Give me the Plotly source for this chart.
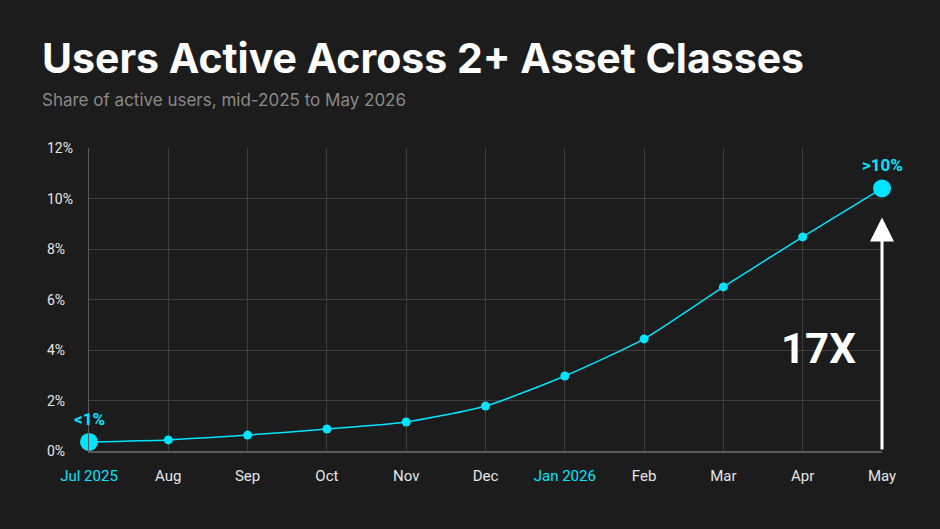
import plotly.graph_objects as go

months = ["Jul 2025", "Aug", "Sep", "Oct", "Nov", "Dec", "Jan 2026", "Feb", "Mar", "Apr", "May"]
share_pct = [0.36, 0.44, 0.63, 0.87, 1.15, 1.78, 2.97, 4.44, 6.5, 8.48, 10.4]
highlight_ticks = ["Jul 2025", "Jan 2026"]
y_ticks = [0, 2, 4, 6, 8, 10, 12]

CYAN = "#00e5ff"
BG = "#1c1c1c"

xs = list(range(len(months)))
ticktext = [f'<span style="color:{CYAN}">{m}</span>' if m in highlight_ticks else m for m in months]

marker_sizes = [18 if i in (0, len(xs) - 1) else 9 for i in xs]

fig = go.Figure()
fig.add_trace(go.Scatter(
    x=xs, y=share_pct, mode="lines+markers",
    line=dict(color=CYAN, width=1.5, shape="spline", smoothing=0.6),
    marker=dict(color=CYAN, size=marker_sizes, line=dict(width=0), opacity=1),
    hoverinfo="skip", showlegend=False, cliponaxis=False,
))

fig.add_annotation(x=0, y=share_pct[0], text="<b>&lt;1%</b>", showarrow=False,
                   yshift=23, font=dict(color=CYAN, size=17, family="Roboto"))
fig.add_annotation(x=xs[-1], y=share_pct[-1], text="<b>&gt;10%</b>", showarrow=False,
                   yshift=23, font=dict(color=CYAN, size=17, family="Roboto"))

# growth arrow
fig.add_annotation(x=xs[-1], y=9.25, ax=xs[-1], ay=0, xref="x", yref="y", axref="x", ayref="y",
                   text="", showarrow=True, arrowhead=2, arrowsize=1.6, arrowwidth=3, arrowcolor="white")
fig.add_annotation(x=9.2, y=4.05, text="<b>17X</b>", showarrow=False,
                   font=dict(color="white", size=42, family="Roboto"))

# left-aligned y tick labels
for v in y_ticks:
    fig.add_annotation(xref="paper", yref="y", x=-0.0555, y=v, xanchor="left", yanchor="middle",
                       text=f"{v}%", showarrow=False, font=dict(size=14, color="#e6e6e6", family="Roboto"))

fig.update_layout(
    width=940, height=529,
    paper_bgcolor=BG, plot_bgcolor=BG,
    margin=dict(l=89, r=58, t=148, b=78),
    font=dict(family="Roboto", color="#e6e6e6"),
    xaxis=dict(range=[0, 10], tickvals=xs, ticktext=ticktext, showgrid=True, gridcolor="#3d3d3d",
               gridwidth=1, zeroline=False, showline=True, linecolor="#5a5a5a", linewidth=2,
               tickfont=dict(size=15, color="#e6e6e6"), ticks="", ticklabelstandoff=10),
    yaxis=dict(range=[0, 12], tickvals=y_ticks, showticklabels=False, showgrid=True,
               gridcolor="#3d3d3d", gridwidth=1, zeroline=False, showline=True, linecolor="#5a5a5a",
               linewidth=1, ticks=""),
)

fig.add_annotation(xref="paper", yref="paper", x=-0.062, y=1.0, xanchor="left", yanchor="bottom",
                   yshift=63, text="<b>Users Active Across 2+ Asset Classes</b>", showarrow=False,
                   font=dict(family="Inter", size=41, color="white"))
fig.add_annotation(xref="paper", yref="paper", x=-0.062, y=1.0, xanchor="left", yanchor="bottom",
                   yshift=36, text="Share of active users, mid-2025 to May 2026", showarrow=False,
                   font=dict(family="Inter", size=17, color="#8a8a8a"))

fig.write_html("out.html")
